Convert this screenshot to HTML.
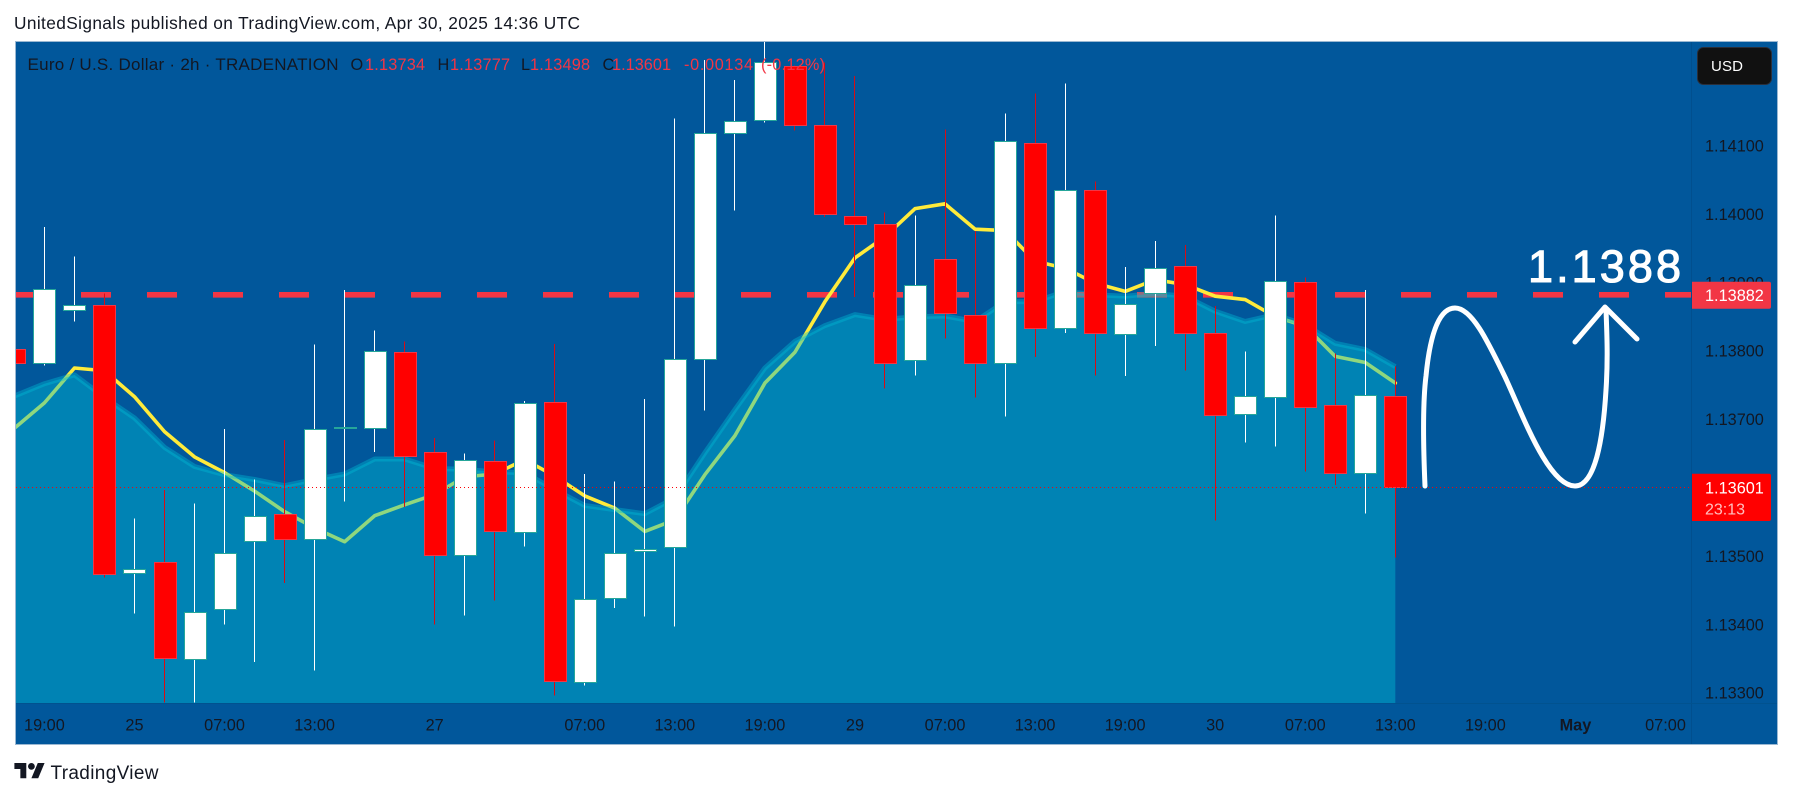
<!DOCTYPE html>
<html lang="en">
<head>
<meta charset="utf-8">
<title>EUR/USD 2h chart</title>
<style>
html,body{margin:0;padding:0;background:#fff;width:1793px;height:798px;overflow:hidden}
svg{display:block;font-family:"Liberation Sans",Arial,sans-serif}
</style>
</head>
<body>
<svg id="chart" xmlns="http://www.w3.org/2000/svg" width="1793" height="798" viewBox="0 0 1793 798">
  <defs>
    <clipPath id="plot-clip"><rect x="16" y="42" width="1675.5" height="661"/></clipPath>
  </defs>
  <rect x="0" y="0" width="1793" height="798" fill="#ffffff"/>
  <text x="14" y="29" font-size="17.3" fill="#131722" textLength="566" lengthAdjust="spacing">UnitedSignals published on TradingView.com, Apr 30, 2025 14:36 UTC</text>
  <rect x="15.5" y="41.5" width="1762" height="703" fill="#01579b" stroke="#9bb8d2" stroke-width="1"/>
  <g id="plot" clip-path="url(#plot-clip)"></g>
  <line x1="1691.5" y1="42" x2="1691.5" y2="744" stroke="#014f8e" stroke-width="1"/>
  <line x1="16" y1="703.5" x2="1777" y2="703.5" stroke="#01528f" stroke-width="1"/>
  <g id="price-axis"></g>
  <g id="time-axis"></g>

  <g fill="none" stroke="#ffffff" stroke-width="5" stroke-linecap="round" stroke-linejoin="round">
    <path d="M1425 486 C1423 440 1423 400 1426 376 C1429 345 1436 308 1455 308 C1472 308 1488 342 1505 377 C1522 413 1548 486 1575 486 C1595 486 1603 440 1606 390 C1608 360 1607 335 1606 310"/>
    <path d="M1575 342 L1605 307 L1637 339"/>
  </g>
  <text x="1528" y="282" font-size="45" fill="#ffffff" stroke="#ffffff" stroke-width="1.1" textLength="153" lengthAdjust="spacing">1.1388</text>

  <g font-size="16.3">
    <text x="27.5" y="70" font-size="17" fill="#131722" textLength="311" lengthAdjust="spacing">Euro / U.S. Dollar · 2h · TRADENATION</text>
    <text x="350.5" y="70" fill="#131722">O</text>
    <text x="365" y="70" fill="#f23645" textLength="60">1.13734</text>
    <text x="437.5" y="70" fill="#131722">H</text>
    <text x="450" y="70" fill="#f23645" textLength="60">1.13777</text>
    <text x="521" y="70" fill="#131722">L</text>
    <text x="530" y="70" fill="#f23645" textLength="60">1.13498</text>
    <text x="602.5" y="70" fill="#131722">C</text>
    <text x="612" y="70" fill="#f23645" textLength="59">1.13601</text>
    <text x="684" y="70" fill="#f23645" textLength="69">-0.00134</text>
    <text x="761" y="70" fill="#f23645" textLength="64">(-0.12%)</text>
  </g>

  <g>
    <rect x="1697.5" y="47.5" width="74" height="37" rx="6" fill="#111111" stroke="#2a2e39"/>
    <text x="1711" y="71" font-size="15" fill="#ffffff" textLength="32">USD</text>
  </g>

  <g>
    <g transform="translate(14.4 759.6) scale(0.85)" fill="#131722">
      <path d="M14 22H7V11H0V4h14v18zM28 22h-8l7.5-18h8L28 22z"/>
      <circle cx="20" cy="8" r="4"/>
    </g>
    <text x="50.5" y="779" font-size="19" fill="#131722" textLength="108" lengthAdjust="spacing">TradingView</text>
  </g>
</svg>

<script>
// OHLC series (2h bars)
const opens = [1.13803,1.13782,1.13860,1.13867,1.13475,1.13491,1.13350,1.13422,1.13522,1.13562,1.13525,1.13687,1.13687,1.13798,1.13652,1.13502,1.13639,1.13535,1.13725,1.13316,1.13439,1.13507,1.13513,1.13788,1.14119,1.14138,1.14217,1.14130,1.13997,1.13985,1.13787,1.13934,1.13853,1.13782,1.14104,1.13833,1.14035,1.13824,1.13885,1.13924,1.13826,1.13708,1.13733,1.13901,1.13721,1.13621,1.13734];
const highs = [1.13810,1.13981,1.13938,1.13884,1.13555,1.13597,1.13577,1.13686,1.13612,1.13670,1.13809,1.13889,1.13830,1.13814,1.13673,1.13650,1.13669,1.13727,1.13810,1.13620,1.13609,1.13730,1.14140,1.14225,1.14196,1.14252,1.14217,1.14222,1.14202,1.14002,1.13998,1.14124,1.13975,1.14147,1.14176,1.14191,1.14048,1.13923,1.13961,1.13955,1.13866,1.13799,1.13998,1.13907,1.13796,1.13889,1.13777];
const lows = [1.13775,1.13779,1.13843,1.13469,1.13416,1.13286,1.13286,1.13400,1.13345,1.13461,1.13333,1.13580,1.13652,1.13572,1.13400,1.13413,1.13435,1.13514,1.13296,1.13311,1.13424,1.13412,1.13397,1.13713,1.14005,1.14134,1.14122,1.13996,1.13879,1.13745,1.13764,1.13818,1.13732,1.13704,1.13791,1.13826,1.13764,1.13763,1.13807,1.13771,1.13552,1.13666,1.13660,1.13624,1.13604,1.13562,1.13498];
const closes = [1.13782,1.13890,1.13867,1.13474,1.13481,1.13351,1.13419,1.13505,1.13559,1.13525,1.13686,1.13689,1.13800,1.13646,1.13502,1.13640,1.13537,1.13724,1.13318,1.13438,1.13505,1.13511,1.13788,1.14118,1.14136,1.14222,1.14130,1.14000,1.13985,1.13783,1.13897,1.13855,1.13782,1.14107,1.13833,1.14035,1.13826,1.13868,1.13921,1.13826,1.13706,1.13734,1.13902,1.13718,1.13621,1.13735,1.13601];
// Moving-average line and area indicator
const fastAverage = [1.13687,1.13724,1.13775,1.13771,1.13733,1.13682,1.13645,1.13622,1.13595,1.13565,1.13541,1.13521,1.13559,1.13575,1.13590,1.13616,1.13620,1.13641,1.13617,1.13588,1.13570,1.13536,1.13553,1.13619,1.13676,1.13753,1.13798,1.13872,1.13936,1.13967,1.14008,1.14015,1.13978,1.13976,1.13931,1.13921,1.13899,1.13887,1.13904,1.13897,1.13880,1.13875,1.13850,1.13836,1.13792,1.13783,1.13753];
const slowAverage = [1.13734,1.13752,1.13765,1.13732,1.13702,1.13659,1.13631,1.13619,1.13612,1.13603,1.13612,1.13620,1.13642,1.13642,1.13628,1.13627,1.13623,1.13622,1.13597,1.13574,1.13568,1.13562,1.13585,1.13651,1.13714,1.13775,1.13814,1.13837,1.13853,1.13846,1.13850,1.13851,1.13843,1.13872,1.13872,1.13887,1.13882,1.13880,1.13884,1.13880,1.13858,1.13843,1.13853,1.13838,1.13811,1.13802,1.13777];
// Axis labels
const priceTicks = [1.141,1.140,1.139,1.138,1.137,1.136,1.135,1.134,1.133];
const timeLabels = ['19:00','25','07:00','13:00','27','07:00','13:00','19:00','29','07:00','13:00','19:00','30','07:00','13:00','19:00','May','07:00'];
const timeBars = [1,4,7,10,14,19,22,25,28,31,34,37,40,43,46,49,52,55];
const boldTimeLabels = ['May'];
const targetPrice = 1.13882;
const countdownLabel = '23:13';

const SVGNS = 'http://www.w3.org/2000/svg';
const xScale = i => 14.4 + 30.02 * i;
const yScale = p => 145.7 + (1.141 - p) / 0.001 * 68.4;
const make = (tag, attrs, parent) => {
  const el = document.createElementNS(SVGNS, tag);
  for (const k in attrs) el.setAttribute(k, attrs[k]);
  parent.appendChild(el);
  return el;
};
const plot = document.getElementById('plot');
const priceAxis = document.getElementById('price-axis');
const timeAxis = document.getElementById('time-axis');
const lastIndex = closes.length - 1;
const PLOT_BOTTOM = 703;

// target price dashed line (beneath indicators)
const targetLine = make('line', {x1: 15, x2: 1691.5, y1: yScale(targetPrice), y2: yScale(targetPrice), stroke: '#f23645', 'stroke-width': 5.7, 'stroke-dasharray': '30 36'}, plot);



// yellow average line
const linePoints = fastAverage.map((v, i) => xScale(i) + ',' + yScale(v)).join(' ');
const fastLine = make('polyline', {points: linePoints, fill: 'none', stroke: '#ffeb3b', 'stroke-width': 3.6, 'stroke-linejoin': 'round', 'stroke-linecap': 'round'}, plot);



// translucent area
const areaPoints = slowAverage.map((v, i) => xScale(i) + ',' + yScale(v)).join(' ');
const areaFill = make('polygon', {points: areaPoints + ' ' + xScale(lastIndex) + ',' + PLOT_BOTTOM + ' ' + xScale(0) + ',' + PLOT_BOTTOM, fill: '#00bcd4', 'fill-opacity': 0.44}, plot);


const areaEdge = make('polyline', {points: areaPoints, fill: 'none', stroke: '#00bcd4', 'stroke-opacity': 0.4, 'stroke-width': 5, 'stroke-linejoin': 'round'}, plot);



// candles
opens.forEach((open, i) => {
  const close = closes[i];
  const up = close >= open;
  const cx = xScale(i);
  const g = make('g', {'shape-rendering': 'crispEdges'}, plot);
  
  
  const wickTop = yScale(highs[i]);
  const wickBottom = yScale(lows[i]);
  const wick = make('rect', {x: Math.floor(cx), y: wickTop, width: 1, height: wickBottom - wickTop, fill: up ? '#ffffff' : '#d80c14'}, g);
  
  
  const top = Math.round(yScale(Math.max(open, close)));
  const bottom = Math.round(yScale(Math.min(open, close)));
  const body = make('rect', {x: Math.round(cx - 11) + 0.5, y: top + 0.5, width: 22, height: Math.max(bottom - top, 1), fill: up ? '#ffffff' : '#ff0000', stroke: up ? '#26a69a' : '#f23645', 'stroke-width': 1}, g);
  
  
});

// last price dotted line
const lastPriceY = Math.round(yScale(closes[lastIndex])) + 0.5;
const lastLine = make('line', {x1: 16, x2: 1691.5, y1: lastPriceY, y2: lastPriceY, stroke: '#ff0000', 'stroke-width': 1, 'stroke-dasharray': '1 3', 'shape-rendering': 'crispEdges'}, plot);



// price axis labels
priceTicks.forEach(p => {
  const t = make('text', {x: 1705, y: yScale(p) + 5.8, 'font-size': 16.3, fill: '#131722'}, priceAxis);
  t.textContent = p.toFixed(5);
  
  
});

// target tag
const targetY = yScale(targetPrice);
const targetTag = make('path', {d: 'M1692 ' + (targetY - 13) + 'H1769a2 2 0 0 1 2 2V' + (targetY + 12) + 'a2 2 0 0 1 -2 2H1692Z', fill: '#f23645'}, priceAxis);


const targetText = make('text', {x: 1705, y: targetY + 6.2, 'font-size': 16.3, fill: '#ffffff'}, priceAxis);
targetText.textContent = targetPrice.toFixed(5);



// last price tag
const lastY = yScale(closes[lastIndex]);
const lastTag = make('path', {d: 'M1692 ' + (lastY - 13.3) + 'H1769a2 2 0 0 1 2 2V' + (lastY + 32) + 'a2 2 0 0 1 -2 2H1692Z', fill: '#ff0000'}, priceAxis);


const lastText = make('text', {x: 1705, y: lastY + 6.5, 'font-size': 16.3, fill: '#ffffff'}, priceAxis);
lastText.textContent = closes[lastIndex].toFixed(5);


const countdownText = make('text', {x: 1705, y: lastY + 27.5, 'font-size': 16, fill: '#ffffff', 'fill-opacity': 0.75}, priceAxis);
countdownText.textContent = countdownLabel;



// time axis labels
timeLabels.forEach((label, i) => {
  const t = make('text', {x: xScale(timeBars[i]), y: 730.5, 'font-size': 16.3, fill: '#131722', 'text-anchor': 'middle', 'font-weight': boldTimeLabels.includes(label) ? 700 : 400}, timeAxis);
  t.textContent = label;
  
  
});
</script>
</body>
</html>
